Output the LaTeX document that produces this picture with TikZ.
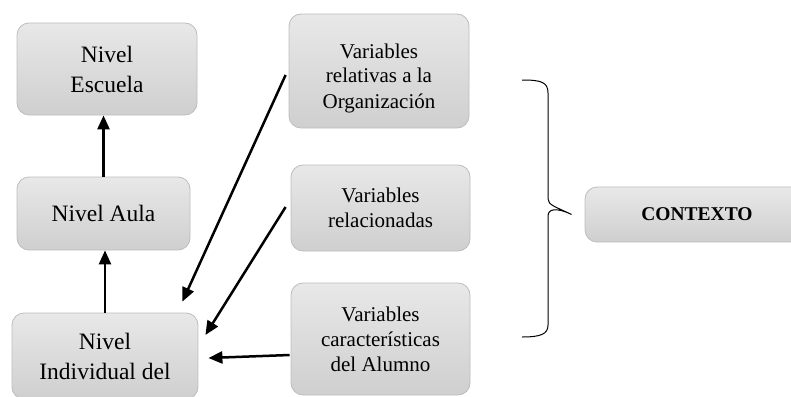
\documentclass[tikz,border=0pt]{standalone}
\usepackage{fontspec}
\setmainfont{Liberation Serif}
\usetikzlibrary{arrows.meta,calc}
\definecolor{boxtop}{HTML}{E8E8E8}
\definecolor{boxbot}{HTML}{CFCFCF}
\definecolor{boxline}{HTML}{BDBDBD}
\begin{document}
\begin{tikzpicture}[x=1pt,y=-1pt,
  box/.style={rounded corners=12pt, draw=boxline, line width=0.8pt, top color=boxtop, bottom color=boxbot, align=center, inner sep=0pt, anchor=center},
  lefttext/.style={font=\fontsize{23.5}{30}\selectfont},
  righttext/.style={font=\fontsize{21}{25}\selectfont},
  arr/.style={line width=2.5pt, -{Triangle[length=14pt,width=12pt]}}]
\useasboundingbox (0,0) rectangle (791,396);
\clip (0,0) rectangle (791,396);
% left column
\node[box, lefttext, minimum width=180pt, minimum height=92pt] (esc) at (107,69) {Nivel\\Escuela};
\node[box, lefttext, minimum width=173pt, minimum height=73pt] (aula) at (103.5,213.5) {Nivel Aula};
\node[box, lefttext, minimum width=186pt, minimum height=86pt] (ind) at (105,356) {Nivel\\Individual del};
% right column
\node[box, righttext, minimum width=180pt, minimum height=114pt] (org) at (379,71) {\raisebox{-7pt}[\height][\depth]{\begin{tabular}{@{}c@{}}Variables\\relativas a la\\Organización\end{tabular}}};
\node[box, righttext, minimum width=179pt, minimum height=86pt] (rel) at (380.5,208) {\raisebox{-2pt}[\height][\depth]{\begin{tabular}{@{}c@{}}Variables\\relacionadas\end{tabular}}};
\node[box, righttext, minimum width=179pt, minimum height=112pt] (car) at (380.5,339) {Variables\\características\\del Alumno};
% context
\node[box, font=\fontsize{19.5}{23}\bfseries\selectfont, minimum width=224pt, minimum height=55pt] (ctx) at (697,214.5) {CONTEXTO};
% arrows
\draw[arr] (aula.north) -- (aula.north |- esc.south);
\draw[arr] (ind.north) -- (ind.north |- aula.south);
\draw[arr] ([xshift=-3pt,yshift=-4pt]org.west) -- ([xshift=-16pt,yshift=11pt]ind.north east);
\draw[arr] ([xshift=-5pt,yshift=1pt]rel.west) -- ([xshift=7pt,yshift=21pt]ind.east);
\draw[arr] ([xshift=-1pt,yshift=-16pt]car.west) -- ([xshift=10pt,yshift=-2pt]ind.east);
% brace
\coordinate (btip) at ([xshift=-13pt]ctx.west);
\draw[line width=1pt] (522,80) .. controls (541,80) and (548,82) .. (548,93) -- (548,199)
  .. controls (548,205) and (556,207) .. (btip)
  .. controls (556,207) and (548,209) .. (548,216) -- (548,325)
  .. controls (548,334) and (541,337) .. (522,337);
\end{tikzpicture}
\end{document}
